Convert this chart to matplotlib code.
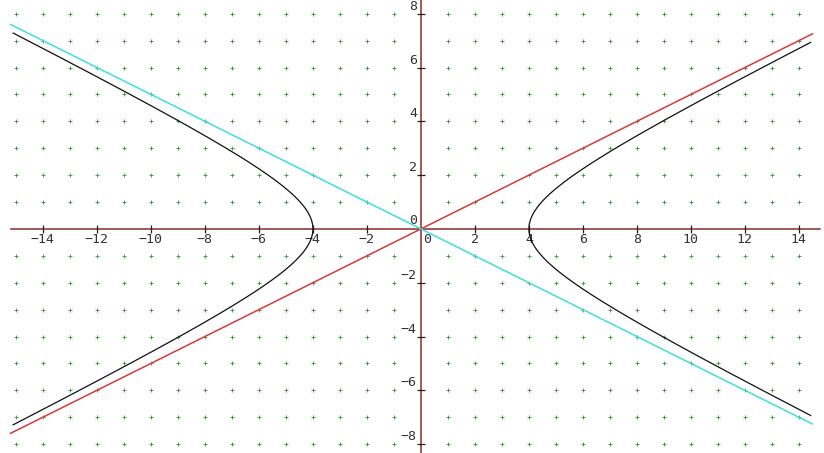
import numpy as np
import matplotlib
matplotlib.use("Agg")
import matplotlib.pyplot as plt

# Hyperbola x^2/a^2 - y^2/b^2 = 1 and its asymptotes y = +/- (b/a) x
hyp_a = 4.0
hyp_b = 2.0
asym_slopes = [0.5, -0.5]
asym_colors = ["#d63a3a", "#40dede"]

x_ticks = [-14, -12, -10, -8, -6, -4, -2, 2, 4, 6, 8, 10, 12, 14]
y_ticks = [-8, -6, -4, -2, 2, 4, 6, 8]
x_tick_labels = [str(v).replace("-", "\u2212") for v in x_ticks]
y_tick_labels = [str(v).replace("-", "\u2212") for v in y_ticks]
grid_x = list(range(-15, 15))
grid_y = list(range(-8, 9))

xmin_view, xmax_view = -15.59, 14.93
ymin_view, ymax_view = -8.33, 8.51
curve_x_range = (-15.2, 14.5)
axis_x_range = (-15.2, 14.8)

fig = plt.figure(figsize=(8.24, 4.53), dpi=100)
ax = fig.add_axes([0, 0, 1, 1])
ax.set_xlim(xmin_view, xmax_view)
ax.set_ylim(ymin_view, ymax_view)
ax.axis("off")
fig.patch.set_facecolor("white")

# grid dots
gx, gy = np.meshgrid([v for v in grid_x if v != 0], [v for v in grid_y if v != 0])
ax.plot(gx.ravel(), gy.ravel(), linestyle="none", marker="+", ms=2.2, mew=0.6,
        color="#3a8f3a", zorder=1)

# axes
axis_color = "#8b2a2a"
ax.plot(axis_x_range, [0, 0], color=axis_color, lw=1.1, zorder=2)
ax.plot([0, 0], [ymin_view, ymax_view], color=axis_color, lw=1.1, zorder=2)

# tick marks
ax.plot(x_ticks, [0] * len(x_ticks), linestyle="none", marker="|", ms=6, mew=0.9,
        color="#222222", zorder=3)
ax.plot([0] * len(y_ticks), y_ticks, linestyle="none", marker="_", ms=6, mew=0.9,
        color="#222222", zorder=3)

# asymptotes
xs_line = np.array(curve_x_range)
for s, c in zip(asym_slopes, asym_colors):
    ax.plot(xs_line, s * xs_line, color=c, lw=1.1, zorder=4)

# hyperbola branches
ymax_c = hyp_b * np.sqrt((max(abs(curve_x_range[0]), curve_x_range[1]) / hyp_a) ** 2 - 1)
t = np.linspace(-np.arcsinh(ymax_c / hyp_b), np.arcsinh(ymax_c / hyp_b), 600)
for sign, lim in [(1, curve_x_range[1]), (-1, curve_x_range[0])]:
    bx = sign * hyp_a * np.cosh(t)
    by = hyp_b * np.sinh(t)
    m = np.abs(bx) <= abs(lim)
    ax.plot(bx[m], by[m], color="#111111", lw=0.9, zorder=5)

# labels
font = dict(family="DejaVu Sans Mono", fontsize=9.5, color="#333333")
px = (xmax_view - xmin_view) / 824.0
py = (ymax_view - ymin_view) / 453.0
for v, lab in zip(x_ticks, x_tick_labels):
    ax.text(v, -4 * py, lab, ha="center", va="top", **font)
for v, lab in zip(y_ticks, y_tick_labels):
    ax.text(-4 * px, v + 1 * py, lab, ha="right", va="bottom", **font)
ax.text(2 * px, -4 * py, "0", ha="left", va="top", **font)
ax.text(-4 * px, 2 * py, "0", ha="right", va="bottom", **font)

fig.savefig("out.png", dpi=100, facecolor="white")
